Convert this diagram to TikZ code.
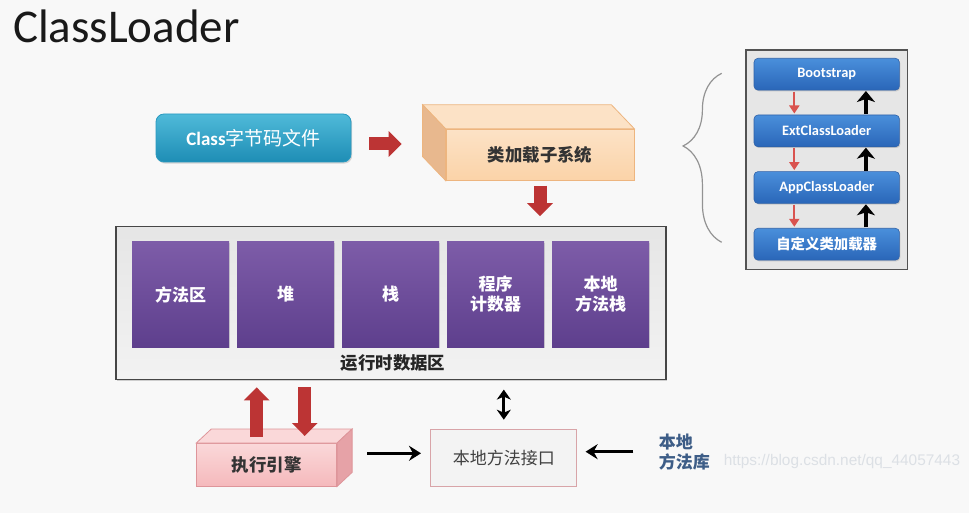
\documentclass[tikz,border=0pt]{standalone}
\usepackage{fontspec}
\setmainfont{Carlito}
\newfontfamily\cjk{Noto Sans CJK SC}
\newfontfamily\webfont{Liberation Sans}
\usetikzlibrary{arrows.meta,calc,shadows,decorations.pathreplacing}

\definecolor{bgcol}{HTML}{F8F8F8}
\definecolor{arrowred}{HTML}{BC3434}
\definecolor{thinred}{HTML}{D9534F}
\definecolor{clstop}{HTML}{4FBAD9}
\definecolor{clsbot}{HTML}{1E8DB5}
\definecolor{clsedge}{HTML}{2A9AC0}
\definecolor{peachfront}{HTML}{FBD3A8}
\definecolor{peachlight}{HTML}{FCE2C6}
\definecolor{peachside}{HTML}{E8B88E}
\definecolor{peachedge}{HTML}{EDB57F}
\definecolor{memtop}{HTML}{7D5CA8}
\definecolor{membot}{HTML}{5E3F8D}
\definecolor{pinkfront}{HTML}{F5B9BC}
\definecolor{pinklight}{HTML}{FAD8D9}
\definecolor{pinkside}{HTML}{E6A2A7}
\definecolor{pinkedge}{HTML}{DE959A}
\definecolor{nativefill}{HTML}{F3F3F3}
\definecolor{nativeedge}{HTML}{D8A4A8}
\definecolor{bluetop}{HTML}{4A8FDB}
\definecolor{bluebot}{HTML}{2A66B8}
\definecolor{blueedge}{HTML}{2E61A8}
\definecolor{panelfill}{HTML}{E6E6E6}
\definecolor{libblue}{HTML}{3D5D87}
\definecolor{wmgray}{HTML}{DCE0E5}

\tikzset{
  fatarrow/.style={line width=6.5pt, draw=arrowred, -{Triangle[width=12.5pt,length=6.5pt]}},
  blackarrow/.style={line width=1.5pt, -{Stealth[length=6pt,width=7.5pt,inset=2pt]}},
  membox/.style={minimum width=48.5pt, minimum height=52.5pt, top color=memtop,
    bottom color=membot, text=white, align=center,
    font=\cjk\bfseries\fontsize{8.5pt}{10pt}\selectfont,
    drop shadow={opacity=0.25,shadow xshift=0.6pt,shadow yshift=-0.6pt}},
  bluebox/.style={minimum width=72.7pt, minimum height=15.9pt, rounded corners=2pt,
    top color=bluetop, bottom color=bluebot, draw=blueedge, line width=0.3pt,
    text=white, font=\bfseries\fontsize{7.2pt}{8pt}\selectfont,
    drop shadow={opacity=0.3,shadow xshift=0.5pt,shadow yshift=-0.6pt}},
}

\begin{document}
\begin{tikzpicture}[x=0.5pt,y=-0.5pt]
  \fill[bgcol] (0,0) rectangle (969,513);
  \useasboundingbox (0,0) rectangle (969,513);

  \node[anchor=base west,font=\fontsize{23.5pt}{28pt}\selectfont,text=black!90] (title) at (6,43) {ClassLoader};

  % class file and loader subsystem
  \node[minimum width=97.5pt, minimum height=24pt, rounded corners=4pt, top color=clstop,
    bottom color=clsbot, draw=clsedge, text=white, font=\fontsize{9.5pt}{11pt}\selectfont,
    drop shadow={opacity=0.3,shadow xshift=0.6pt,shadow yshift=-0.8pt}] (cls) at (253.5,138)
    {{\bfseries Class}\cjk 字节码文件};

  \node[minimum width=94pt, minimum height=25.5pt, top color=peachlight, bottom color=peachfront,
    draw=peachedge, text=black!80, font=\cjk\bfseries\fontsize{8.7pt}{10pt}\selectfont] (loader) at (540,154.7) {类加载子系统};
  \filldraw[draw=peachedge, fill=peachlight] (loader.north west) -- ++(-23,-24) -- ($(loader.north east)+(-23,-24)$) -- (loader.north east) -- cycle;
  \filldraw[draw=peachedge, fill=peachside] (loader.north west) -- ++(-23,-24) -- ($(loader.south west)+(-23,-24)$) -- (loader.south west) -- cycle;

  \draw[fatarrow, shorten <=9pt, shorten >=22pt] ([yshift=-3pt]cls.east) -- ([yshift=-3pt]cls.east -| loader.west);

  % runtime data area
  \node[draw=gray!55!black, line width=0.6pt, minimum width=275pt, minimum height=76.5pt,
    top color=gray!20, bottom color=gray!10,
    drop shadow={opacity=0.35,shadow xshift=0.6pt,shadow yshift=-0.8pt}] (runtime) at (391,303.3) {};
  \foreach \txt [count=\i] in {方法区,堆,栈,{程序\\计数器},{本地\\方法栈}}
    \node[membox] (mem\i) at ({75.5+105*\i},294.5) {\txt};
  \node[font=\cjk\bfseries\fontsize{8.7pt}{10pt}\selectfont, text=black!85] (rtlabel) at (393,363) {运行时数据区};

  \draw[fatarrow, shorten <=2.5pt, shorten >=5pt] (loader.south) -- (runtime.north -| loader.south);

  % execution engine
  \node[minimum width=70pt, minimum height=21.3pt, top color=pinklight, bottom color=pinkfront,
    draw=pinkedge, text=black!80, font=\cjk\bfseries\fontsize{8.7pt}{10pt}\selectfont] (exec) at (266.7,464.7) {执行引擎};
  \filldraw[draw=pinkedge, fill=pinklight] (exec.north west) -- ++(15,-14) -- ($(exec.north east)+(15,-14)$) -- (exec.north east) -- cycle;
  \filldraw[draw=pinkedge, fill=pinkside] (exec.north east) -- ++(15,-14) -- ($(exec.south east)+(15,-14)$) -- (exec.south east) -- cycle;

  \draw[fatarrow, shorten >=3.5pt] ($(exec.north)+(-10,-6)$) coordinate (up0) -- (up0 |- runtime.south);
  \draw[fatarrow, shorten <=3.5pt] ($(exec.north)+(38,-7)$) coordinate (dn0) (dn0 |- runtime.south) -- (dn0);

  % native interface
  \node[draw=nativeedge, fill=nativefill, line width=0.5pt, minimum width=72.9pt, minimum height=28.3pt,
    text=black!75, font=\cjk\fontsize{8.5pt}{10pt}\selectfont] (native) at (503.8,457.7) {本地方法接口};
  \node[anchor=west, align=left, text=libblue, font=\cjk\bfseries\fontsize{8.5pt}{10pt}\selectfont] (lib) at (651.7,451.7) {本地\\方法库};

  \draw[blackarrow, shorten <=15pt, shorten >=4.7pt] ([yshift=2.2pt]native.west -| exec.east) -- ([yshift=2.2pt]native.west);
  \draw[blackarrow, shorten <=9.2pt, shorten >=4.2pt] (lib.west) -- (lib.west -| native.east);
  \draw[line width=1.5pt, {Stealth[length=5pt,width=7pt,inset=1.5pt]}-{Stealth[length=5pt,width=7pt,inset=1.5pt]},
    shorten <=4.6pt, shorten >=4.6pt] (native.north |- runtime.south) -- (native.north);

  % loader hierarchy
  \node[draw=gray!65!black, fill=panelfill, line width=0.6pt, minimum width=80.9pt, minimum height=109.7pt] (panel) at (826.9,159.7) {};
  \foreach \name/\txt/\y in {boot/Bootstrap/74.2, ext/ExtClassLoader/130.9, app/AppClassLoader/187.5, custom/{\cjk 自定义类加载器}/244.2}
    \node[bluebox] (\name) at (826.7,\y) {\txt};
  \foreach \a/\b in {boot/ext, ext/app, app/custom} {
    \draw[thinred, line width=1pt, -{Triangle[width=5pt,length=4pt]}, shorten <=0.6pt, shorten >=0.6pt]
      ([xshift=-16.2pt]\a.south) -- ([xshift=-16.2pt]\b.north);
    \draw[line width=1.8pt, -{Stealth[width=9pt,length=5.5pt,inset=1.5pt]}, shorten <=0.3pt, shorten >=0.3pt]
      ([xshift=19.6pt]\b.north) -- ([xshift=19.6pt]\a.south);
  }
  \coordinate (bracebot) at (721.7,242.3);
  \coordinate (bracetop) at (721.7,73.3);
  \draw[gray!85, line width=0.6pt, decorate, decoration={brace, amplitude=19.3pt, aspect=0.57}] (bracebot) -- (bracetop);

  \node[anchor=west, text=wmgray, font=\webfont\fontsize{7.7pt}{9pt}\selectfont] (wm) at (716.7,461.7) {https://blog.csdn.net/qq\_44057443};
\end{tikzpicture}
\end{document}
